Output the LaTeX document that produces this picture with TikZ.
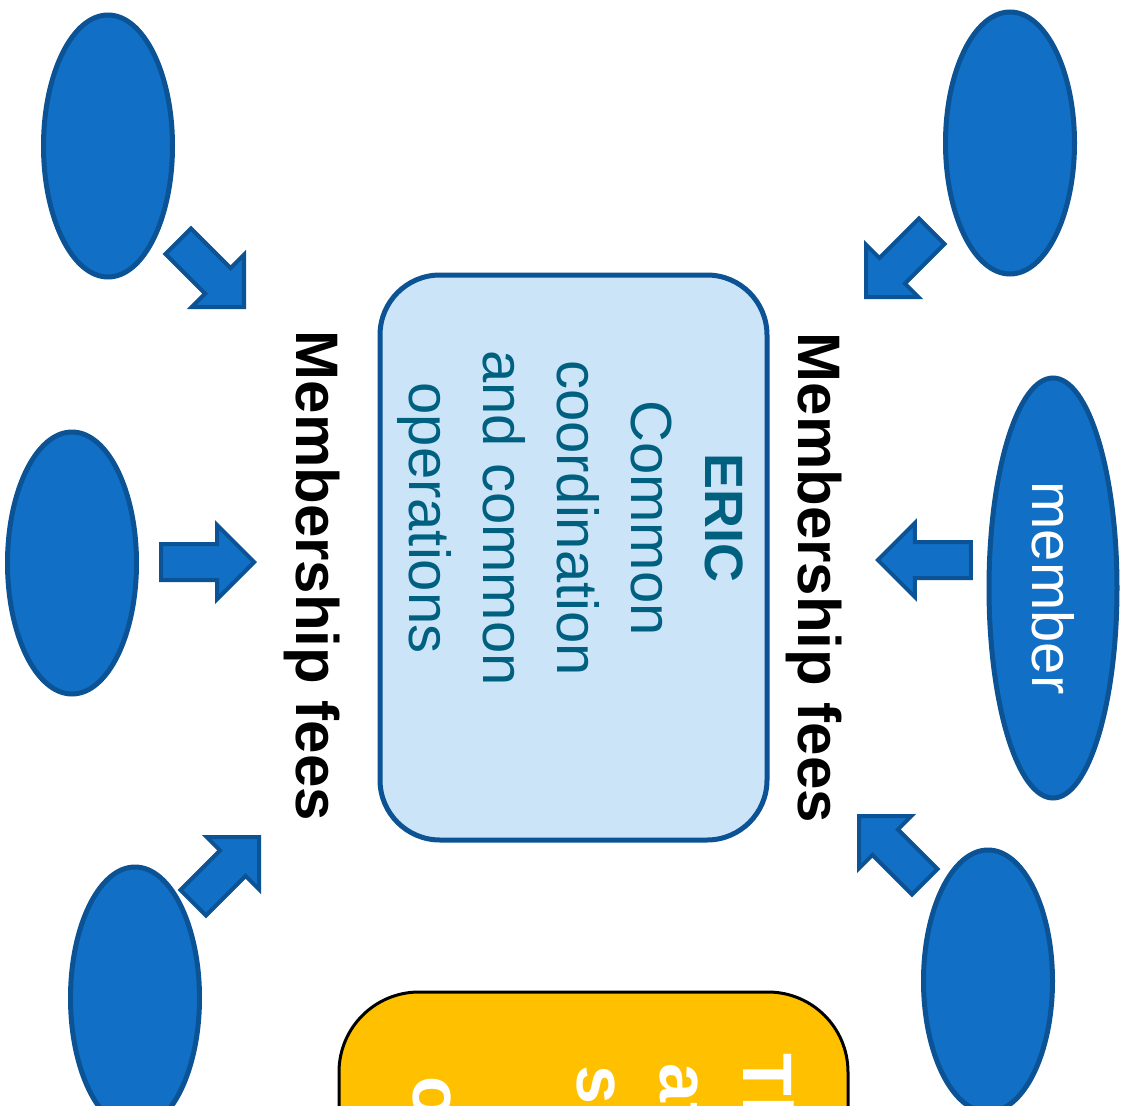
\documentclass[tikz,border=0pt]{standalone}
\usepackage{fontspec}
\setmainfont{Liberation Sans}
\usetikzlibrary{shapes.geometric,shapes.arrows}
\definecolor{memblue}{HTML}{1170C6}
\definecolor{memedge}{HTML}{0B5394}
\definecolor{boxfill}{HTML}{CCE4F8}
\definecolor{ericteal}{HTML}{006080}
\definecolor{noteyellow}{HTML}{FFC000}

\begin{document}
\begin{tikzpicture}[x=1pt,y=-1pt,
  member/.style={ellipse,draw=memedge,fill=memblue,line width=5pt,inner sep=0pt,
    minimum width=129pt,minimum height=262pt},
  feearrow/.style={single arrow,draw=memedge,fill=memblue,line width=4pt,inner sep=16pt,
    minimum height=93pt,single arrow head extend=19pt,single arrow tip angle=90,anchor=tip},
  feelabel/.style={rotate=-90,anchor=base,font=\fontsize{60}{70}\selectfont\bfseries}]
  \path[use as bounding box] (0,0) rectangle (1128,1106);
  \clip (0,0) rectangle (1128,1106);

  \node[member] (m1) at (108,146) {};
  \node[member] (m2) at (72,563) {};
  \node[member] (m3) at (135,998) {};
  \node[member] (m4) at (1010,143) {};
  \node[member,rotate=-90,minimum width=420pt,minimum height=128pt,text=white,
    font=\fontsize{58}{70}\selectfont] (m5) at (1053,588) {member};
  \node[member] (m6) at (988,981) {};

  \node[feearrow,rotate=-45] (a1) at (246,309) {};
  \node[feearrow,rotate=0] (a2) at (257,562) {};
  \node[feearrow,rotate=45] (a3) at (261,835) {};
  \node[feearrow,rotate=-135] (a4) at (864,299) {};
  \node[feearrow,rotate=180] (a5) at (875,560) {};
  \node[feearrow,rotate=135] (a6) at (857,814) {};

  \node[feelabel] (feesL) at (296,576) {Membership fees};
  \node[feelabel] (feesR) at (798,578) {Membership fees};

  \node[draw=memedge,fill=boxfill,line width=5pt,rounded corners=60pt,
    minimum width=387pt,minimum height=565pt,anchor=center] (eric) at (573.5,557.5) {};
  \node[rotate=-90,align=center,text=ericteal,font=\fontsize{58}{74}\selectfont]
    (ericText) at (570,518) {{\fontsize{54}{74}\selectfont\bfseries ERIC}\\Common\\coordination\\and common\\operations};

  \draw[fill=noteyellow,line width=3pt,rounded corners=80pt] (339,992) rectangle (848,1260);
  \begin{scope}[every node/.style={rotate=-90,anchor=base west,text=white,
      font=\fontsize{70}{83}\selectfont\bfseries}]
    \node (n1) at (743,1050) {Th};
    \node (n2) at (660,1060) {at};
    \node (n3) at (577,1062) {s};
    \node (n4) at (413,1073) {o};
  \end{scope}
\end{tikzpicture}
\end{document}
